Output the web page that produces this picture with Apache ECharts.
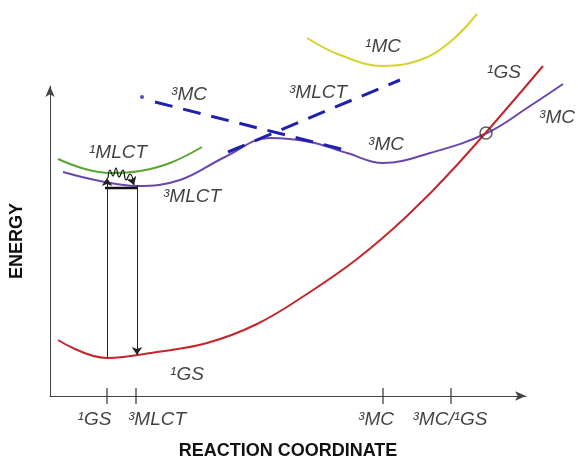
<!DOCTYPE html>
<html><head><meta charset="utf-8">
<script src="https://cdn.jsdelivr.net/npm/echarts@6/dist/echarts.min.js"></script>
<style>html,body{margin:0;padding:0;background:#fff}#c{width:578px;height:462px}</style>
</head><body><div id="c"></div>
<script>
// Reaction coordinate (x) and energy (y) in chart units
const gs1 = [[8,56],[57,38],[107,44],[157,53],[207,72],[257,102],[307,137],[357,180],[407,231],[493,330]];
const mlct3mc3 = [[13,224],[50,215],[87,210],[130,216],[175,239],[220,258],[260,254],[297,243],[333,233],[380,243],[437,263],[480,290],[513,312]];
const mlct1 = [[8,237],[35,227],[60,223],[90,225],[120,233],[152,249]];
const mc1 = [[257,358],[290,341],[333,330],[370,336],[400,354],[427,382]];
const mc3Dashed = [[105,294],[295,246]];
const mc3Dot = [[92,299]];
const mlct3Dashed = [[178,244],[350,316]];
const absorption = [[57,38],[57,218]];
const emission = [[87,211],[87,41]];
const vibLevel = [[55,208],[87,208]];
const iscWave = [[58,218],[60,226],[63,220],[66,228],[69,219],[73,226],[76,216],[80,222],[84,211]];
const crossing = [[436,263]];
const tickValues = [57, 86, 333, 401];
const tickLabels = ['¹GS', '³MLCT', '³MC', '³MC/¹GS'];
const tickLabelX = [44.5, 107, 326, 400];
const curveLabels = [
  ['¹MC', 333, 349], ['³MLCT', 268, 303], ['¹GS', 454, 323], ['³MC', 507, 278],
  ['³MC', 336, 251], ['³MC', 139, 301], ['¹MLCT', 68, 243], ['³MLCT', 142, 199], ['¹GS', 137, 21]
];

const font = '"Liberation Sans", Arial, sans-serif';
const chart = echarts.init(document.getElementById('c'));
const lineS = (data, color, w, extra) => Object.assign({
  type: 'line', data, smooth: 0.4, showSymbol: false, symbol: 'none', clip: false, silent: true,
  lineStyle: {color, width: w}, z: 3
}, extra || {});

const labelData = curveLabels.map(l => ({value: [l[1], l[2]], name: l[0]}))
  .concat(tickLabels.map((t, i) => ({value: [tickLabelX[i], -24], name: t})));

const hiddenAxis = {axisLine: {show: false}, axisTick: {show: false}, axisLabel: {show: false}, splitLine: {show: false}};
const arrowLine = {show: true, symbol: ['none', 'arrow'], symbolSize: [7, 11], lineStyle: {color: '#444', width: 1}};
const nameStyle = {fontFamily: font, fontWeight: 'bold', fontSize: 18, color: '#111'};

chart.setOption({
  animation: false,
  grid: [
    // plotting area (full width so curves can run past the axis arrows)
    {left: 50, right: 0, top: 0, bottom: 66, containLabel: false, outerBoundsMode: 'none'},
    // visible axes
    {left: 50, right: 52, top: 86, bottom: 66, containLabel: false, outerBoundsMode: 'none'}
  ],
  xAxis: [
    Object.assign({type: 'value', gridIndex: 0, min: 0, max: 528}, hiddenAxis),
    Object.assign({type: 'value', gridIndex: 1, min: 0, max: 476, name: 'REACTION COORDINATE',
      nameLocation: 'middle', nameGap: 46, nameTextStyle: nameStyle}, hiddenAxis, {axisLine: arrowLine})
  ],
  yAxis: [
    Object.assign({type: 'value', gridIndex: 0, min: 0, max: 396}, hiddenAxis),
    Object.assign({type: 'value', gridIndex: 1, min: 0, max: 310, name: 'ENERGY', nameLocation: 'middle',
      nameGap: 24, nameRotate: 90, nameTextStyle: nameStyle}, hiddenAxis, {axisLine: arrowLine})
  ],
  series: [
    lineS(mc1, '#d6d22e', 2),
    lineS(mlct1, '#5aa534', 2),
    lineS(mlct3mc3, '#6a46ad', 2),
    lineS(gs1, '#c0282c', 2),
    lineS(mc3Dashed, '#2020b0', 3, {smooth: false, lineStyle: {color: '#2020b0', width: 3, type: [18, 11]}}),
    lineS(mlct3Dashed, '#2020b0', 3, {smooth: false, lineStyle: {color: '#2020b0', width: 3, type: [18, 11]}}),
    {type: 'scatter', data: mc3Dot, symbol: 'circle', symbolSize: 4, itemStyle: {color: '#2020b0'}, silent: true, clip: false},
    lineS(vibLevel, '#111', 2.5, {smooth: false, z: 4}),
    lineS(iscWave, '#111', 1.2, {smooth: 0.5, z: 4}),
    {type: 'line', data: [], silent: true, markLine: {
      silent: true, symbol: ['none', 'arrow'], symbolSize: 8, animation: false,
      label: {show: false}, lineStyle: {color: '#222', width: 1, type: 'solid'},
      data: [
        [{coord: absorption[0]}, {coord: absorption[1]}],
        [{coord: emission[0]}, {coord: emission[1]}],
        [{coord: iscWave[iscWave.length - 2]}, {coord: iscWave[iscWave.length - 1], lineStyle: {width: 0.1}}]
      ]
    }},
    {type: 'scatter', data: crossing, symbol: 'circle', symbolSize: 12, silent: true, z: 5,
      itemStyle: {color: 'rgba(0,0,0,0)', borderColor: '#333', borderWidth: 1.5}},
    {type: 'scatter', data: tickValues.map(v => [v, 0]), symbol: 'rect', symbolSize: [1.5, 16], clip: false,
      silent: true, itemStyle: {color: '#333'}},
    {type: 'scatter', data: labelData, symbolSize: 0, clip: false, silent: true, z: 6,
      label: {show: true, position: 'inside', formatter: p => p.name, fontFamily: font, fontStyle: 'italic',
        fontSize: 19, color: '#111'}}
  ]
});
</script></body></html>
